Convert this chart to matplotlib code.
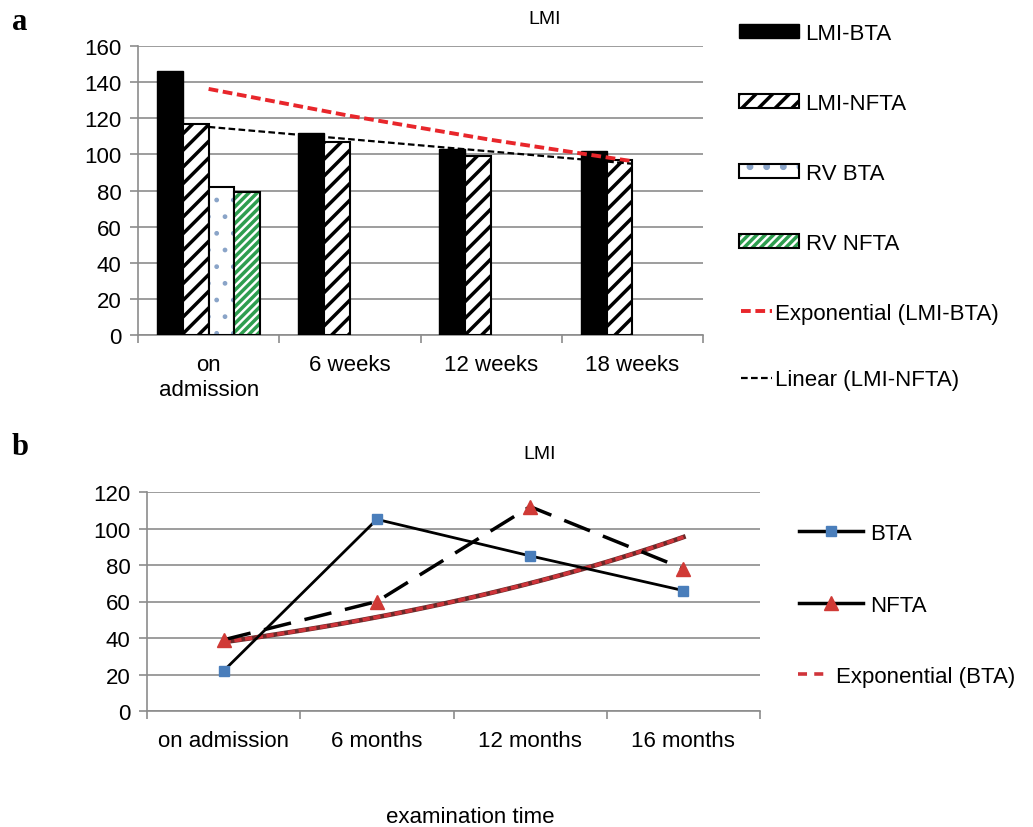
import numpy as np
import matplotlib
matplotlib.use('Agg')
from matplotlib import pyplot as plt
from matplotlib.patches import Patch
from matplotlib.lines import Line2D

plt.rcParams['font.family'] = ['Liberation Sans', 'DejaVu Sans']
plt.rcParams['hatch.linewidth'] = 2.5

# -- dados painel a ------------------------------------------------------------
weeks = ['on\nadmission', '6 weeks', '12 weeks', '18 weeks']
lmi_bta = [146, 112, 103, 102]
lmi_nfta = [117, 107, 99, 97]
rv_bta = [82, 0, 0, 0]
rv_nfta = [79, 0, 0, 0]

# -- dados painel b ------------------------------------------------------------
months = ['on admission', '6 months', '12 months', '16 months']
bta = [22, 105, 85, 66]
nfta = [39, 60, 112, 78]

GRID = '#8c8c8c'
FS = 16
RED = '#e8262b'
GREEN = '#2e9e4f'
DOT = '#8aa4c8'

fig = plt.figure(figsize=(10.33, 8.28), dpi=100)


def estilo(ax, ymax, labels):
    ax.set_xlim(-0.5, 3.5)
    ax.set_ylim(0, ymax)
    ax.set_yticks(range(0, ymax + 1, 20))
    ax.set_xticks(range(len(labels)))
    ax.set_xticklabels(labels, fontsize=FS)
    ax.set_xticks(np.arange(-0.5, 4, 1), minor=True)
    ax.tick_params(axis='x', which='major', length=0, pad=14)
    ax.tick_params(axis='x', which='minor', length=6, color=GRID, width=1.2)
    ax.tick_params(axis='y', length=6, color=GRID, width=1.2, labelsize=FS, pad=6)
    ax.grid(axis='y', color=GRID, lw=1.2, zorder=0)
    ax.set_axisbelow(True)
    for s in ['top', 'right']:
        ax.spines[s].set_visible(False)
    for s in ['left', 'bottom']:
        ax.spines[s].set_color(GRID)
        ax.spines[s].set_linewidth(1.2)


# ============================ painel a =========================================
ax1 = fig.add_axes([138 / 1033, 1 - 336 / 828, 565 / 1033, 289 / 828])
x = np.arange(len(weeks))
w = 0.183
off = [-1.5 * w, -0.5 * w, 0.5 * w, 1.5 * w]
lw_rv = [1.5 if v > 0 else 0 for v in rv_bta]

ax1.bar(x + off[0], lmi_bta, w, color='black', edgecolor='black', lw=1, zorder=3)
ax1.bar(x + off[1], lmi_nfta, w, color='white', edgecolor='black', hatch='//', lw=1.5, zorder=3)
with plt.rc_context({'hatch.linewidth': 1.0}):
    ax1.bar(x + off[2], rv_bta, w, color='white', edgecolor=DOT, hatch='.', lw=0, zorder=3)
ax1.bar(x + off[2], rv_bta, w, color='none', edgecolor='black', lw=lw_rv, zorder=3)
ax1.bar(x + off[3], rv_nfta, w, color='white', edgecolor=GREEN, hatch='////', lw=0, zorder=3)
ax1.bar(x + off[3], rv_nfta, w, color='none', edgecolor='black', lw=lw_rv, zorder=3)

# linhas de tendencia (como no Excel)
xt = np.arange(1, len(weeks) + 1)
b, a = np.polyfit(xt, np.log(lmi_bta), 1)
ax1.plot(x, np.exp(a + b * xt), color=RED, lw=2.8, ls=(0, (2.5, 1.2)), zorder=4)
m, c = np.polyfit(xt, lmi_nfta, 1)
ax1.plot(x, c + m * xt, color='black', lw=1.6, ls=(0, (3, 1.5)), zorder=4)

estilo(ax1, 160, weeks)

with plt.rc_context({'hatch.linewidth': 1.0}):
    dots = Patch(facecolor='white', edgecolor=DOT, hatch='.', lw=0)
h1 = [Patch(facecolor='black', edgecolor='black'),
      Patch(facecolor='white', edgecolor='black', hatch='//', lw=1.5),
      (dots, Patch(facecolor='none', edgecolor='black', lw=1.5)),
      (Patch(facecolor='white', edgecolor=GREEN, hatch='////', lw=0),
       Patch(facecolor='none', edgecolor='black', lw=1.5))]
l1 = ['LMI-BTA', 'LMI-NFTA', 'RV BTA', 'RV NFTA']
fig.legend(h1, l1, loc='upper left', bbox_to_anchor=(730 / 1033, 1 - 15 / 828),
           frameon=False, fontsize=FS, handlelength=2.7, handleheight=0.6,
           handletextpad=0.3, labelspacing=2.2, borderaxespad=0)
h1b = [Line2D([], [], color=RED, lw=2.8, ls=(0, (2.5, 1.2))),
       Line2D([], [], color='black', lw=1.6, ls=(0, (3, 1.5)))]
l1b = ['Exponential (LMI-BTA)', 'Linear (LMI-NFTA)']
fig.legend(h1b, l1b, loc='upper left', bbox_to_anchor=(732 / 1033, 1 - 295 / 828),
           frameon=False, fontsize=FS, handlelength=1.4, handletextpad=0.15,
           labelspacing=2.05, borderaxespad=0)

fig.text(545 / 1033, 1 - 20 / 828, 'LMI', fontsize=14, ha='center', va='center')
fig.text(12 / 1033, 1 - 22 / 828, 'a', fontsize=22, fontweight='bold',
         family='Liberation Serif', va='center')

# ============================ painel b =========================================
ax2 = fig.add_axes([147 / 1033, 1 - 712 / 828, 613 / 1033, 219 / 828])
x2 = np.arange(len(months))
ax2.plot(x2, bta, color='black', lw=2, marker='s', ms=7, mfc='#4a7ebb',
         mec='#4a7ebb', zorder=4)
ax2.plot(x2, nfta, color='black', lw=2.5, ls=(0, (8, 4)), marker='^', ms=10,
         mfc='#d03a36', mec='#d03a36', zorder=4)
xs = np.linspace(1, 4, 100)
b2, a2 = np.polyfit(xt, np.log(bta), 1)
ax2.plot(xs - 1, np.exp(a2 + b2 * xs), color='#6a2a2a', lw=3.4, zorder=3)
ax2.plot(xs - 1, np.exp(a2 + b2 * xs), color='#d0343a', lw=2.6, ls=(0, (2, 1)), zorder=3)

estilo(ax2, 120, months)

h2 = [Line2D([], [], color='black', lw=2.5, marker='s', ms=7, mfc='#4a7ebb', mec='#4a7ebb'),
      Line2D([], [], color='black', lw=2.5, marker='^', ms=10, mfc='#d03a36', mec='#d03a36')]
fig.legend(h2, ['BTA', 'NFTA'], loc='upper left', bbox_to_anchor=(790 / 1033, 1 - 515 / 828),
           frameon=False, fontsize=FS, handlelength=2.9, handletextpad=0.3,
           labelspacing=2.3, borderaxespad=0)
fig.legend([Line2D([], [], color='#d0343a', lw=2.6, ls=(0, (2.5, 2)))],
           ['Exponential (BTA)'], loc='upper left',
           bbox_to_anchor=(789 / 1033, 1 - 658 / 828),
           frameon=False, fontsize=FS, handlelength=1.4, handletextpad=0.3,
           borderaxespad=0)

fig.text(540 / 1033, 1 - 455 / 828, 'LMI', fontsize=14, ha='center', va='center')
fig.text(12 / 1033, 1 - 448 / 828, 'b', fontsize=22, fontweight='bold',
         family='Liberation Serif', va='center')
fig.text(470 / 1033, 1 - 818 / 828, 'examination time', fontsize=FS,
         ha='center', va='center')

fig.savefig('out.png', dpi=100)
